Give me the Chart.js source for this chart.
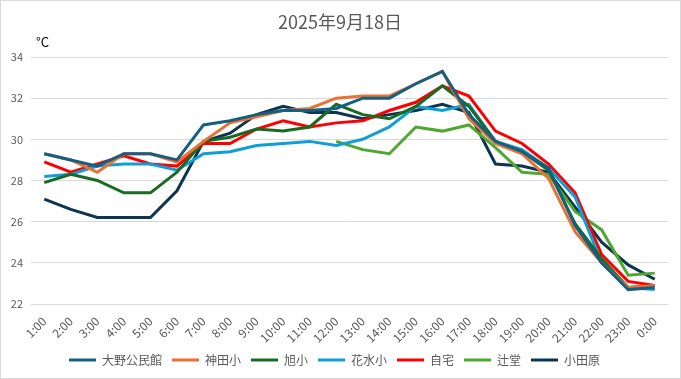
<!DOCTYPE html>
<html>
<head>
<meta charset="utf-8">
<script src="https://cdn.jsdelivr.net/npm/chart.js@4"></script>
<style>
  html, body { margin: 0; padding: 0; background: #fff; }
  #wrap { width: 681px; height: 379px; box-sizing: border-box; border: 1px solid #d9d9d9; position: relative; }
  canvas { display: block; }
</style>
</head>
<body>
<div id="wrap"><canvas id="c" width="679" height="377"></canvas></div>
<script>
const chartTitle = "2025年9月18日";
const unitLabel = "°C";
const hours = ["1:00","2:00","3:00","4:00","5:00","6:00","7:00","8:00","9:00","10:00","11:00","12:00","13:00","14:00","15:00","16:00","17:00","18:00","19:00","20:00","21:00","22:00","23:00","0:00"];
const yTicks = [22, 24, 26, 28, 30, 32, 34];

const seriesNames = ["大野公民館", "神田小", "旭小", "花水小", "自宅", "辻堂", "小田原"];
const oono    = [29.3, 29.0, 28.7, 29.3, 29.3, 29.0, 30.7, 30.9, 31.2, 31.4, 31.4, 31.5, 32.0, 32.0, 32.7, 33.3, 31.2, 29.9, 29.4, 28.6, 25.8, 24.0, 22.7, 22.8];
const kanda   = [29.3, 29.0, 28.4, 29.3, 29.3, 28.9, 29.9, 30.8, 31.1, 31.4, 31.5, 32.0, 32.1, 32.1, 32.7, 33.3, 31.0, 29.8, 29.3, 28.1, 25.5, 24.0, 22.8, 22.9];
const asahi   = [27.9, 28.3, 28.0, 27.4, 27.4, 28.4, 29.9, 30.1, 30.5, 30.4, 30.6, 31.7, 31.2, 31.0, 31.6, 32.6, 31.6, 29.9, 29.4, 28.5, 25.9, 24.2, 22.8, 22.9];
const hanamizu= [28.2, 28.3, 28.7, 28.8, 28.8, 28.5, 29.3, 29.4, 29.7, 29.8, 29.9, 29.7, 30.0, 30.6, 31.6, 31.4, 31.7, 29.9, 29.5, 28.6, 27.2, 24.0, 22.8, 22.7];
const jitaku  = [28.9, 28.4, 28.8, 29.2, 28.8, 28.7, 29.8, 29.8, 30.5, 30.9, 30.6, 30.8, 30.9, 31.4, 31.8, 32.6, 32.1, 30.4, 29.8, 28.8, 27.4, 24.4, 23.1, 22.9];
const tsujido = [null, null, null, null, null, null, null, null, null, null, null, 29.9, 29.5, 29.3, 30.6, 30.4, 30.7, 29.6, 28.4, 28.3, 26.5, 25.6, 23.4, 23.5];
const odawara = [27.1, 26.6, 26.2, 26.2, 26.2, 27.5, 29.9, 30.3, 31.2, 31.6, 31.3, 31.3, 31.0, 31.2, 31.4, 31.7, 31.3, 28.8, 28.7, 28.4, 26.7, 25.0, 23.9, 23.2];

const seriesData = [oono, kanda, asahi, hanamizu, jitaku, tsujido, odawara];
const seriesColors = ["#156082", "#E97132", "#196B24", "#0F9ED5", "#FF0000", "#4EA72E", "#0E3550"];

const FONT = "'Noto Sans CJK JP', 'Noto Sans', sans-serif";

const extraText = {
  id: 'extraText',
  afterDraw(chart) {
    const ctx = chart.ctx;
    ctx.save();
    ctx.fillStyle = '#595959';
    ctx.font = "18px " + FONT;
    ctx.textAlign = 'center';
    ctx.textBaseline = 'middle';
    ctx.fillText(chartTitle, 339, 21);
    ctx.fillStyle = '#000';
    ctx.font = "13px " + FONT;
    ctx.textAlign = 'left';
    ctx.fillText(unitLabel, 35, 41);
    ctx.restore();
  }
};

new Chart(document.getElementById('c'), {
  type: 'line',
  data: {
    labels: hours,
    datasets: seriesNames.map((n, i) => ({
      label: n,
      data: seriesData[i],
      borderColor: seriesColors[i],
      backgroundColor: seriesColors[i],
      borderWidth: 3,
      pointRadius: 0,
      tension: 0,
      spanGaps: false
    }))
  },
  options: {
    responsive: false,
    animation: false,
    layout: { padding: { top: 56, right: 12, left: 0, bottom: 2 } },
    plugins: {
      title: { display: false },
      tooltip: { enabled: false },
      legend: {
        position: 'bottom',
        labels: {
          usePointStyle: true,
          pointStyle: 'line',
          pointStyleWidth: 27,
          boxWidth: 27,
          boxHeight: 3,
          color: '#595959',
          font: { family: FONT, size: 12 },
          padding: 10
        }
      }
    },
    scales: {
      x: {
        offset: true,
        grid: { display: false },
        border: { display: false },
        afterFit(scale) { scale.height = 40; },
        ticks: {
          color: '#595959',
          font: { family: FONT, size: 12 },
          maxRotation: 45,
          minRotation: 45,
          autoSkip: false,
          padding: 2
        }
      },
      y: {
        min: 22,
        max: 34,
        afterBuildTicks(scale) { scale.ticks = yTicks.map(v => ({ value: v })); },
        afterFit(scale) { scale.width = 30; },
        grid: { color: '#D9D9D9', drawTicks: false, lineWidth: 1 },
        border: { display: false },
        ticks: {
          color: '#595959',
          font: { family: FONT, size: 11 },
          padding: 8
        }
      }
    }
  },
  plugins: [extraText]
});
</script>
</body>
</html>
